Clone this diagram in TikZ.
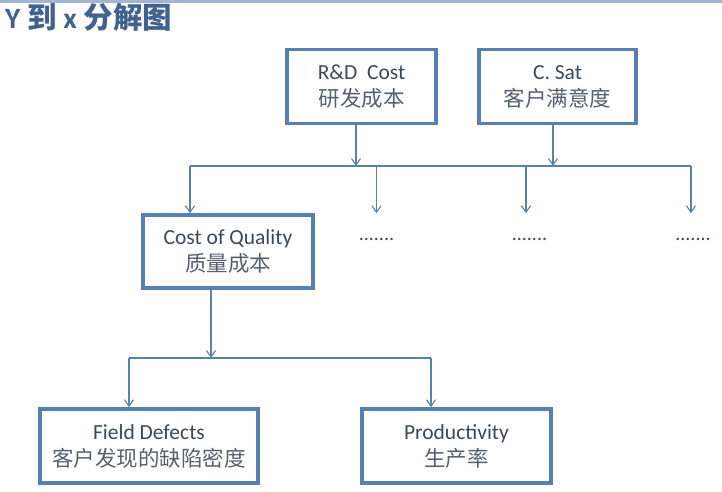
\documentclass[tikz,border=0pt]{standalone}
\usepackage{fontspec}
\usepackage{xcolor}
\usepackage{tikz}
\usetikzlibrary{arrows.meta,positioning,calc}
\setmainfont{Carlito}
\newfontfamily\zh{Noto Sans CJK SC}
\definecolor{boxblue}{HTML}{5680B4}
\definecolor{linkblue}{HTML}{5B7FAE}
\definecolor{titleblue}{HTML}{41628F}
\definecolor{txtgray}{HTML}{3A4859}
\definecolor{zhgray}{HTML}{56606E}
\definecolor{rulegray}{HTML}{A3B6D1}
\newcommand{\kpi}[2]{#1\\{\zh\color{zhgray}#2}}

\begin{document}
\begin{tikzpicture}[
  x=1pt,y=-1pt,
  every node/.style={font=\fontsize{21.5}{27}\selectfont,text=txtgray},
  kpibox/.style={draw=boxblue,line width=3.6pt,align=center,inner sep=0pt,
                 minimum height=74pt},
  gap/.style   ={font=\fontsize{20}{24}\selectfont,inner sep=0pt},
  link/.style  ={draw=linkblue,line width=1.1pt},
  arr/.style   ={link,-{Straight Barb[length=6.5pt,width=9pt,line width=1.1pt]}}]

  \useasboundingbox (0,0) rectangle (722,491);
  \fill[rulegray] (0,0) rectangle (722,2.5);

  % ===== TITLE =====
  \node[anchor=base west,inner sep=0pt,text=titleblue,
        font=\fontsize{29.5}{32}\selectfont\bfseries] (title) at (5,28.5)
    {Y {\zh 到} x {\zh 分解图}};

  % ===== TOP ROW: Y metrics =====
  \node[kpibox,minimum width=149pt] (rd)   at (361.5,86.5) {\kpi{R\&D\ \ Cost}{研发成本}};
  \node[kpibox,minimum width=157pt] (csat) at (557.5,86.5) {\kpi{C. Sat}{客户满意度}};

  % ===== MIDDLE ROW: x drivers =====
  \node[kpibox,minimum width=170pt,minimum height=73pt] (coq) at (228,251.5)
    {\kpi{Cost of Quality}{质量成本}};
  \node[gap] (dots1) at (376.5,239) {.......};
  \node[gap] (dots2) at (529.5,239) {.......};
  \node[gap] (dots3) at (693,239)   {.......};

  % ===== BOTTOM ROW =====
  \node[kpibox,minimum width=218pt] (fd)   at (149,446)   {\kpi{Field Defects}{客户发现的缺陷密度}};
  \node[kpibox,minimum width=189pt] (prod) at (456.5,446) {\kpi{Productivity}{生产率}};

  % ===== ARROWS =====
  \coordinate (bus1) at (0,166);
  \coordinate (bus2) at (0,358);
  % top boxes down to the first bus
  \draw[arr] ([xshift=-5.5pt]rd.south)   -- ([xshift=-5.5pt]rd.south |- bus1);
  \draw[arr] ([xshift=-4.5pt]csat.south) -- ([xshift=-4.5pt]csat.south |- bus1);
  \draw[link] ([xshift=-38pt]coq.north |- bus1) -- ([xshift=-2pt]dots3.north |- bus1);
  % first bus down to the drivers
  \draw[arr] ([xshift=-38pt]coq.north |- bus1) -- ([xshift=-38pt]coq.north);
  \draw[arr] (dots1.north |- bus1) -- (dots1.north |- coq.north);
  \draw[arr] ([xshift=-3.5pt]dots2.north |- bus1) -- ([xshift=-3.5pt]dots2.north |- coq.north);
  \draw[arr] ([xshift=-2pt]dots3.north |- bus1) -- ([xshift=-2pt]dots3.north |- coq.north);
  % Cost of Quality broken down further
  \draw[arr] ([xshift=-17pt]coq.south) -- ([xshift=-17pt]coq.south |- bus2);
  \draw[link] ([xshift=-20pt]fd.north |- bus2) -- ([xshift=-25.5pt]prod.north |- bus2);
  \draw[arr] ([xshift=-20pt]fd.north |- bus2)     -- ([xshift=-20pt]fd.north);
  \draw[arr] ([xshift=-25.5pt]prod.north |- bus2) -- ([xshift=-25.5pt]prod.north);

\end{tikzpicture}
\end{document}
